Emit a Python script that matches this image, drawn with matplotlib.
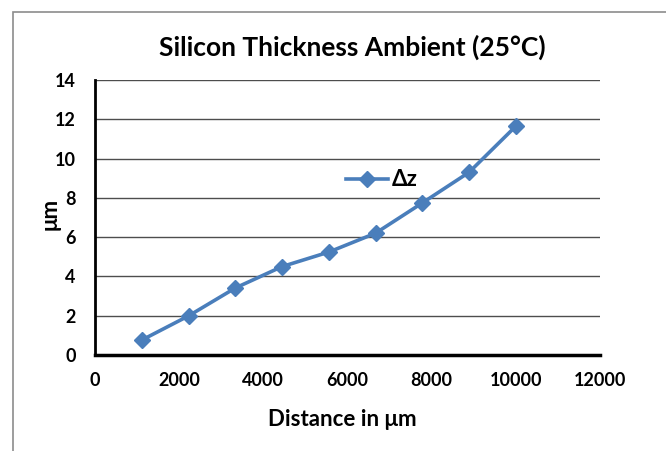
import matplotlib
matplotlib.use("Agg")
import matplotlib.pyplot as plt
from matplotlib.patches import Rectangle

distance = [1111, 2222, 3333, 4444, 5555, 6666, 7777, 8888, 10000]
delta_z = [0.76, 1.99, 3.41, 4.5, 5.24, 6.2, 7.74, 9.3, 11.65]
series_name = "Δz"
title = "Silicon Thickness Ambient (25\u00b0C)"
xlabel = "Distance in μm"
ylabel = "μm"
xticks = [0, 2000, 4000, 6000, 8000, 10000, 12000]
yticks = [0, 2, 4, 6, 8, 10, 12, 14]

plt.rcParams['font.family'] = ['Lato', 'DejaVu Sans']
W, H = 666, 451
fig = plt.figure(figsize=(W/100, H/100), dpi=100)
fig.patch.set_facecolor('white')

# outer chart frame (partially cropped)
fig.add_artist(Rectangle((13/W, -0.1), 1.2, (H - 12)/H + 0.1, transform=fig.transFigure,
                         fill=False, edgecolor='#8c8c8c', linewidth=1.2))

ax = fig.add_axes([95/W, 1 - 355/H, (600 - 95)/W, (355 - 80)/H])
color = '#4a7ebb'
ax.plot(distance, delta_z, color=color, linewidth=2.6, marker='D', markersize=8.5,
        markerfacecolor=color, markeredgecolor=color, label=series_name, zorder=3)
ax.set_xlim(0, 12000)
ax.set_ylim(0, 14)
ax.set_xticks(xticks)
ax.set_yticks(yticks)
ax.set_xticklabels([str(t) for t in xticks], fontweight='bold', fontsize=13)
ax.set_yticklabels([str(t) for t in yticks], fontweight='bold', fontsize=13)
ax.tick_params(axis='y', length=0, pad=14)
ax.tick_params(axis='x', length=0, pad=12)
ax.grid(axis='y', color='#4d4d4d', linewidth=1.0, zorder=0)
ax.set_axisbelow(True)
for s in ['top', 'right']:
    ax.spines[s].set_visible(False)
ax.spines['left'].set_linewidth(2.0)
ax.spines['bottom'].set_linewidth(2.5)
ax.spines['left'].set_color('black')
ax.spines['bottom'].set_color('black')

fig.text(352/W, 1 - 47/H, title, ha='center', va='center', fontsize=19, fontweight='bold')
fig.text(342/W, 1 - 420/H, xlabel, ha='center', va='center', fontsize=16, fontweight='bold')
fig.text(50/W, 1 - 214/H, ylabel, ha='center', va='center', rotation=90, fontsize=16, fontweight='bold')

leg = ax.legend(loc='center left', bbox_to_anchor=(346/W, 1 - 180/H), bbox_transform=fig.transFigure,
                frameon=False, prop={'weight': 'bold', 'size': 16}, handlelength=1.9,
                handletextpad=0.15, borderpad=0, borderaxespad=0)

fig.savefig('out.png', dpi=100)
